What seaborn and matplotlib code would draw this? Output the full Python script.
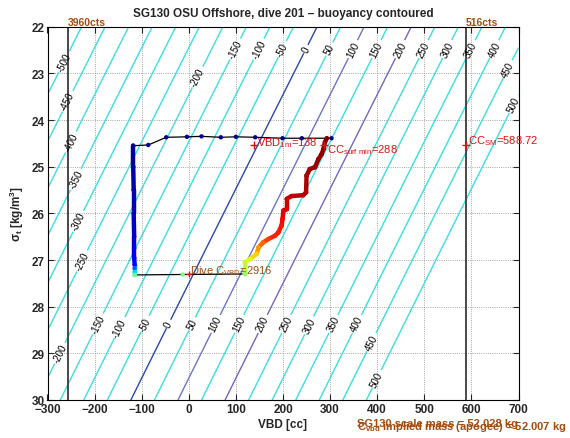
import numpy as np
import pandas as pd
import matplotlib
matplotlib.use('Agg')
import matplotlib.pyplot as plt
import seaborn as sns
from matplotlib.collections import LineCollection

#%% Data
# glider constants
scale_mass_g = 52028
hull_volume_cc = 50635.6
c_vbd = 2916
cc_per_count = -0.24529
vbd_min_cts = 3960
vbd_max_cts = 516
vbd_1m = 138
cc_surf_min = 288
cc_sm = 588.72

contour_levels = list(range(-500, 501, 50))
highlight_colors = {0: '#2848b2', 100: '#6c74c8', 200: '#7068c4'}

# (level, sigma) spots where each contour gets its label
label_spots = [(-500, 22.75), (-450, 23.6), (-400, 24.47), (-350, 25.27), (-300, 26.17),
               (-250, 27.02), (-200, 29.0), (-200, 23.08),
               (-150, 22.48), (-100, 22.48), (-50, 22.48), (0, 22.48), (50, 22.48),
               (100, 22.48), (150, 22.48), (200, 22.48), (250, 22.48), (300, 22.48),
               (350, 22.48), (400, 22.48), (450, 22.91), (500, 23.66),
               (-150, 28.37), (-100, 28.45), (-50, 28.37), (0, 28.37), (50, 28.37),
               (100, 28.37), (150, 28.37), (200, 28.37), (250, 28.37), (300, 28.4),
               (350, 28.37), (400, 28.37), (450, 28.76), (500, 29.55)]

# dive trace: VBD [cc], sigma_t, fraction of dive time
surface_vbd = [303, 240, 199, 141, 100, 68, 27, -4, -48, -86, -118]
surface_sigma = [24.39, 24.39, 24.39, 24.37, 24.36, 24.37, 24.35, 24.36, 24.37, 24.535, 24.55]
surface_t = [0.0, 0.002, 0.004, 0.006, 0.008, 0.01, 0.012, 0.014, 0.016, 0.018, 0.02]

descent_vbd = [-118, -118, -117, -117, -116, -116, -116, -115, -115, -115, -115]
descent_sigma = [24.55, 25.0, 25.5, 26.0, 26.5, 26.75, 26.95, 27.1, 27.18, 27.26, 27.32]
descent_t = [0.02, 0.03, 0.04, 0.05, 0.07, 0.08, 0.10, 0.13, 0.22, 0.33, 0.45]

apogee_vbd = [-115, -13, 119]
apogee_sigma = [27.32, 27.31, 27.30]
apogee_t = [0.47, 0.50, 0.52]

ascent_vbd = [119, 119, 130, 144, 148, 158, 169, 183, 190, 197, 199, 201, 208, 208,
              218, 243, 249, 250, 257, 268, 275, 282, 286, 289, 293]
ascent_sigma = [27.30, 27.05, 26.98, 26.87, 26.73, 26.62, 26.55, 26.48, 26.41, 26.26,
                26.12, 25.94, 25.91, 25.69, 25.63, 25.61, 25.55, 25.19, 25.05, 25.01,
                24.84, 24.73, 24.62, 24.48, 24.39]
ascent_t = [0.53, 0.58, 0.62, 0.68, 0.74, 0.80, 0.84, 0.87, 0.88, 0.89, 0.90, 0.91, 0.92,
            0.93, 0.94, 0.95, 0.95, 0.96, 0.97, 0.97, 0.98, 0.98, 0.99, 0.99, 1.0]

#%% Style
sns.set_style('ticks')
plt.rcParams['font.family'] = ['Liberation Sans', 'DejaVu Sans']
plt.rcParams['mathtext.fontset'] = 'custom'
plt.rcParams['mathtext.rm'] = 'Liberation Sans'
plt.rcParams['mathtext.it'] = 'Liberation Sans:italic'
plt.rcParams['mathtext.bf'] = 'Liberation Sans:bold'

cyan = '#38e0e0'
brown = '#a24c10'
red = '#e01010'
jet = matplotlib.colormaps['jet']

fig = plt.figure(figsize=(5.7, 4.39), dpi=100)
ax = fig.add_axes([47.5 / 570, 1 - 401 / 439, 471 / 570, 373.3 / 439])
ax.set_xlim(-300, 700)
ax.set_ylim(30, 22)

#%% Buoyancy contours
vbd_grid, sigma_grid = np.meshgrid(np.linspace(-300, 700, 401), np.linspace(22, 30, 321))
buoyancy = vbd_grid - (scale_mass_g / (1 + sigma_grid / 1000) - hull_volume_cc)
level_colors = [highlight_colors.get(lvl, cyan) for lvl in contour_levels]
cs = ax.contour(vbd_grid, sigma_grid, buoyancy, levels=contour_levels,
                colors=level_colors, linewidths=1.0)
label_pts = [(lvl + scale_mass_g / (1 + s / 1000) - hull_volume_cc, s) for lvl, s in label_spots]
ax.clabel(cs, manual=label_pts, fmt='%d', fontsize=7, colors='black',
          inline=True, inline_spacing=2)

ax.grid(True, linestyle=':', color='#888888', linewidth=0.6)

# pump limits
for cts in (vbd_min_cts, vbd_max_cts):
    x_line = (cts - c_vbd) * cc_per_count
    ax.axvline(x_line, color='#3a3a3a', lw=1.3)
    ax.text(x_line, 22, f'{cts}cts', ha='left', va='bottom',
            fontsize=7.5, fontweight='bold', color=brown, clip_on=False)

#%% Dive trace
path = pd.DataFrame({
    'vbd': surface_vbd + descent_vbd + apogee_vbd + ascent_vbd,
    'sigma': surface_sigma + descent_sigma + apogee_sigma + ascent_sigma,
    't': surface_t + descent_t + apogee_t + ascent_t,
})
sns.lineplot(data=path, x='vbd', y='sigma', sort=False, estimator=None,
             color='black', lw=0.9, ax=ax)

for xs, ys, ts in ((descent_vbd, descent_sigma, descent_t), (ascent_vbd, ascent_sigma, ascent_t)):
    pts = np.column_stack([xs, ys])
    segs = np.stack([pts[:-1], pts[1:]], axis=1)
    lc = LineCollection(segs, cmap=jet, norm=plt.Normalize(0, 1), linewidths=3.2,
                        capstyle='round')
    lc.set_array(np.asarray(ts[1:]))
    ax.add_collection(lc)

sns.scatterplot(data=path, x='vbd', y='sigma', hue='t', palette=jet, hue_norm=(0, 1),
                s=10, linewidth=0, legend=False, ax=ax, zorder=4)

# markers and annotations
ax.plot([vbd_1m, cc_surf_min, cc_sm], [24.54, 24.54, 24.54], '+', color=red, ms=6, mew=1, zorder=5)
ax.plot([0], [27.31], '+', color=red, ms=5, mew=1, zorder=5)
ax.text(145, 24.47, f'VBD$_\\mathrm{{1m}}$={vbd_1m}', color=red, fontsize=8, va='center')
ax.text(293, 24.62, f'CC$_\\mathrm{{surf\\ min}}$={cc_surf_min}', color=red, fontsize=8, va='center')
ax.text(593, 24.42, f'CC$_\\mathrm{{SM}}$={cc_sm}', color=red, fontsize=8, va='center',
        clip_on=False)
ax.text(3, 27.22, f'Dive C$_\\mathrm{{VBD}}$={c_vbd}', color=brown, fontsize=8, va='center')

fig.text(357 / 570, 1 - 427 / 439, 'SG130 scale mass = 52.028 kg', color=brown,
         fontsize=8, fontweight='bold', ha='left', va='baseline')
fig.text(357 / 570, 1 - 430 / 439, 'C$_\\mathbf{vbd}$ implied mass (apogee) = 52.007 kg',
         color=brown, fontsize=8, fontweight='bold', ha='left', va='baseline')

#%% Axes
ax.set_xticks(range(-300, 701, 100))
ax.set_yticks(range(22, 31))
ax.tick_params(direction='in', top=True, right=True, length=4, width=0.8,
               labelsize=8.5, pad=2)
for lab in ax.get_xticklabels() + ax.get_yticklabels():
    lab.set_fontweight('bold')
for sp in ax.spines.values():
    sp.set_linewidth(0.8)
    sp.set_color('black')
ax.set_xlabel('VBD [cc]', fontsize=8.5, fontweight='bold', labelpad=2)
ax.set_ylabel('σ$_\\mathbf{t}$ [kg/m$^\\mathbf{3}$]', fontsize=8.5, fontweight='bold', labelpad=4)
ax.set_title('SG130 OSU Offshore, dive 201 – buoyancy contoured', fontsize=8.5,
             fontweight='bold', pad=8)

fig.savefig('out.png', dpi=100)
